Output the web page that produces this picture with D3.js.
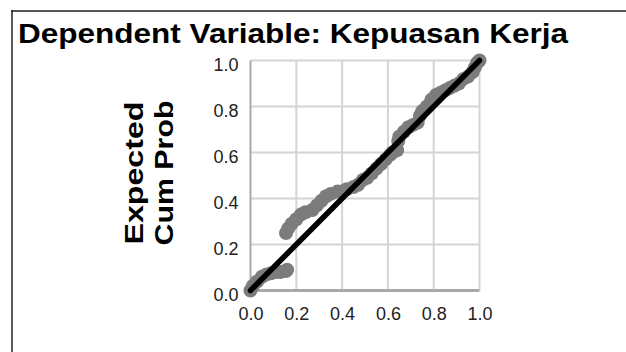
<!DOCTYPE html>
<html>
<head>
<meta charset="utf-8">
<script src="https://cdn.jsdelivr.net/npm/d3@7"></script>
<style>
  body { margin: 0; background: #fff; }
  svg { display: block; font-family: "Liberation Sans", Arial, sans-serif; }
</style>
</head>
<body>
<svg id="chart" width="626" height="352"></svg>
<script>
const observed = [0.00, 0.01, 0.03, 0.05, 0.07, 0.09, 0.11, 0.13, 0.155, 0.16,
  0.155, 0.165, 0.18, 0.20, 0.22, 0.24, 0.27, 0.29, 0.31, 0.33, 0.35, 0.38, 0.40, 0.42,
  0.45, 0.47, 0.49, 0.51, 0.53, 0.55, 0.57, 0.59, 0.61, 0.62, 0.64, 0.645, 0.65, 0.67,
  0.69, 0.71, 0.73, 0.74, 0.75, 0.77, 0.79, 0.81, 0.83, 0.85, 0.87, 0.89, 0.91, 0.93,
  0.95, 0.97, 0.98, 0.99, 1.00]
const expected = [0.00, 0.02, 0.04, 0.06, 0.07, 0.075, 0.08, 0.08, 0.085, 0.09,
  0.25, 0.27, 0.29, 0.31, 0.33, 0.34, 0.35, 0.37, 0.39, 0.41, 0.42, 0.43, 0.43, 0.44,
  0.45, 0.46, 0.48, 0.49, 0.51, 0.53, 0.55, 0.57, 0.59, 0.60, 0.61, 0.65, 0.67, 0.69,
  0.71, 0.72, 0.73, 0.76, 0.78, 0.80, 0.83, 0.85, 0.86, 0.87, 0.88, 0.89, 0.90, 0.92,
  0.93, 0.95, 0.97, 0.99, 1.00]
const tickValues = [0.0, 0.2, 0.4, 0.6, 0.8, 1.0]
const titleText = 'Dependent Variable: Kepuasan Kerja'
const yLabelLines = ['Expected', 'Cum Prob']

const svg = d3.select('#chart')

// frame of the output block
svg.append('line').attr('x1', 11).attr('x2', 626).attr('y1', 11).attr('y2', 11)
  .attr('stroke', '#555').attr('stroke-width', 2)
svg.append('line').attr('x1', 12).attr('x2', 12).attr('y1', 10).attr('y2', 352)
  .attr('stroke', '#222').attr('stroke-width', 1.5)

svg.append('text')
  .attr('x', 18).attr('y', 43)
  .attr('font-size', 27).attr('font-weight', 'bold').attr('fill', '#000')
  .attr('textLength', 550).attr('lengthAdjust', 'spacingAndGlyphs')
  .text(titleText)

const x = d3.scaleLinear().domain([0, 1]).range([250.5, 479.5])
const y = d3.scaleLinear().domain([0, 1]).range([290.5, 60.5])

const grid = svg.append('g').attr('stroke', '#d4d4d4').attr('stroke-width', 2)
grid.selectAll('.vg').data(tickValues.slice(1)).enter().append('line')
  .attr('x1', d => x(d)).attr('x2', d => x(d))
  .attr('y1', y(0)).attr('y2', y(1))
grid.selectAll('.hg').data(tickValues.slice(1)).enter().append('line')
  .attr('x1', x(0)).attr('x2', x(1))
  .attr('y1', d => y(d)).attr('y2', d => y(d))

// axes lines
svg.append('line').attr('x1', x(0)).attr('x2', x(1)).attr('y1', y(0)).attr('y2', y(0))
  .attr('stroke', '#a8a8a8').attr('stroke-width', 3)
svg.append('line').attr('x1', x(0)).attr('x2', x(0)).attr('y1', y(0)).attr('y2', y(1))
  .attr('stroke', '#a8a8a8').attr('stroke-width', 2)

const fmt = d3.format('.1f')
const xAxis = svg.append('g')
  .attr('transform', 'translate(0,' + y(0) + ')')
  .call(d3.axisBottom(x).tickValues(tickValues).tickFormat(fmt).tickSize(0).tickPadding(17))
const yAxis = svg.append('g')
  .attr('transform', 'translate(' + x(0) + ',0)')
  .call(d3.axisLeft(y).tickValues(tickValues).tickFormat(fmt).tickSize(0).tickPadding(12))
;[xAxis, yAxis].forEach(a => {
  a.select('.domain').remove()
  a.selectAll('text').attr('font-size', 18).attr('fill', '#222')
    .attr('font-family', '"Liberation Sans", Arial, sans-serif')
})
yAxis.selectAll('text').attr('dy', '0.55em')

// points
svg.append('g').selectAll('circle')
  .data(observed.map((d, i) => [d, expected[i]]))
  .enter().append('circle')
  .attr('cx', d => x(d[0])).attr('cy', d => y(d[1]))
  .attr('r', 7).attr('fill', '#7c7c7c')

// reference line
svg.append('line')
  .attr('x1', x(0)).attr('y1', y(0)).attr('x2', x(1)).attr('y2', y(1))
  .attr('stroke', '#000').attr('stroke-width', 5.5).attr('stroke-linecap', 'round')

// y label
const yl = svg.append('text')
  .attr('transform', 'translate(0,173) rotate(-90)')
  .attr('font-size', 26).attr('font-weight', 'bold').attr('fill', '#000')
  .attr('text-anchor', 'middle')
yl.selectAll('tspan').data(yLabelLines).enter().append('tspan')
  .attr('x', 0).attr('y', (d, i) => 143 + i * 30)
  .attr('textLength', (d, i) => i === 0 ? 143 : 145).attr('lengthAdjust', 'spacingAndGlyphs')
  .text(d => d)
</script>
</body>
</html>
